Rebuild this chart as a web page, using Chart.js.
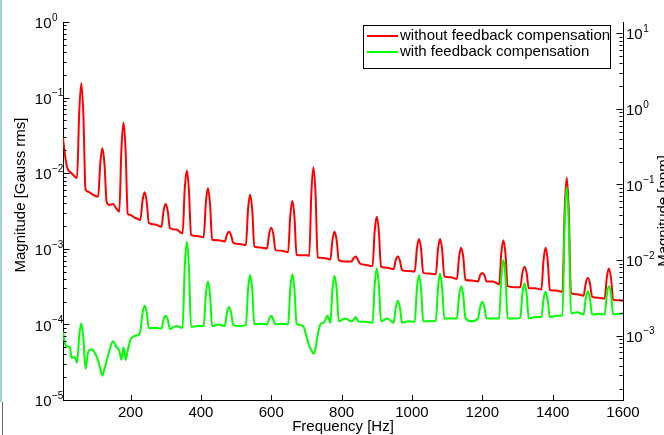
<!DOCTYPE html>
<html>
<head>
<meta charset="utf-8">
<script src="https://cdn.jsdelivr.net/npm/chart.js@4.4.1/dist/chart.umd.min.js"></script>
<style>
  body { margin: 0; background: #fff; }
  #wrap { position: relative; width: 664px; height: 435px; }
  #edgeTop { position: absolute; left: 0; top: 0; width: 2px; height: 402px; background: #a3d2dc; }
  #edgeBottom { position: absolute; left: 2px; top: 402px; width: 1px; height: 33px; background: #666; }
</style>
</head>
<body>
<div id="wrap">
  <canvas id="chart" width="664" height="435"></canvas>
  <div id="edgeTop"></div>
  <div id="edgeBottom"></div>
</div>
<script>
// frequency axis (Hz)
const freq = [
  8, 14, 20, 27, 33, 40, 44,
  48, 54, 60, 66, 72, 80, 90, 100,
  108, 114, 120, 126, 132, 140, 150, 160,
  168, 174, 180, 186, 192, 200, 210, 220,
  228, 234, 240, 246, 252, 270,
  288, 294, 300, 306, 312, 330,
  348, 354, 360, 366, 372, 390,
  408, 414, 420, 426, 432, 450,
  468, 474, 480, 486, 492, 510,
  528, 534, 540, 546, 552, 570,
  588, 594, 600, 606, 612, 630,
  648, 654, 660, 666, 672, 690,
  700, 708, 714, 720, 726, 732, 740, 750, 760,
  768, 774, 780, 786, 792, 810,
  828, 834, 840, 846, 852, 870,
  888, 894, 900, 906, 912, 930,
  948, 954, 960, 966, 972, 990,
  1008, 1014, 1020, 1026, 1032, 1050,
  1068, 1074, 1080, 1086, 1092, 1110,
  1128, 1134, 1140, 1146, 1152, 1170,
  1188, 1194, 1200, 1206, 1212, 1230,
  1248, 1254, 1260, 1266, 1272, 1290,
  1308, 1314, 1320, 1326, 1332, 1350,
  1368, 1374, 1380, 1386, 1392, 1410,
  1428, 1434, 1440, 1446, 1452, 1470,
  1488, 1494, 1500, 1506, 1512, 1530,
  1548, 1554, 1560, 1566, 1572, 1590, 1600
];

// magnitude without feedback compensation (Gauss rms)
const withoutComp = [
  0.029, 0.017, 0.0118, 0.0105, 0.0099, 0.0092, 0.0088,
  0.0087, 0.062, 0.155, 0.058, 0.0061, 0.0057, 0.0053, 0.0050,
  0.0049, 0.0135, 0.0213, 0.013, 0.0042, 0.0038, 0.0039, 0.0034,
  0.0031, 0.0205, 0.047, 0.020, 0.0029, 0.0028, 0.0026, 0.0025,
  0.0024, 0.0043, 0.0056, 0.0042, 0.0022, 0.0021,
  0.00195, 0.0032, 0.0039, 0.0031, 0.00187, 0.0018,
  0.0016, 0.0061, 0.0108, 0.0060, 0.00152, 0.00148,
  0.00142, 0.0040, 0.0063, 0.0039, 0.00132, 0.0013,
  0.00125, 0.00154, 0.00168, 0.0015, 0.0012, 0.00116,
  0.00112, 0.0033, 0.0052, 0.00324, 0.00107, 0.00104,
  0.00101, 0.00157, 0.0019, 0.00155, 0.00096, 0.00094,
  0.0009, 0.00269, 0.0043, 0.00263, 0.00083, 0.00082,
  0.00082, 0.00081, 0.0054, 0.012, 0.0053, 0.00077, 0.00076, 0.00075, 0.00074,
  0.00072, 0.0013, 0.00168, 0.0013, 0.00071, 0.00068,
  0.00068, 0.00075, 0.00079, 0.00072, 0.00064, 0.00061,
  0.00059, 0.0017, 0.00266, 0.00168, 0.00058, 0.00056,
  0.00054, 0.00071, 0.00079, 0.00069, 0.00052, 0.00051,
  0.0005, 0.001, 0.00135, 0.00099, 0.00048, 0.00047,
  0.00046, 0.00098, 0.00135, 0.00096, 0.00043, 0.00042,
  0.0004, 0.00078, 0.00103, 0.00077, 0.00039, 0.00038,
  0.00037, 0.00045, 0.00048, 0.00045, 0.00037, 0.00037,
  0.00034, 0.00087, 0.0013, 0.00085, 0.00032, 0.00031,
  0.00031, 0.00048, 0.00058, 0.00048, 0.0003, 0.0003,
  0.00029, 0.0007, 0.00103, 0.0007, 0.000285, 0.00028,
  0.00027, 0.0031, 0.0088, 0.0031, 0.00026, 0.00025,
  0.00024, 0.00035, 0.00041, 0.00035, 0.000233, 0.000225,
  0.00022, 0.00042, 0.00055, 0.00041, 0.000212, 0.000208, 0.000206
];

// magnitude with feedback compensation (Gauss rms)
const withComp = [
  8.0e-5, 5.5e-5, 5.1e-5, 5.0e-5, 3.6e-5, 3.7e-5, 3.5e-5,
  3.1e-5, 7.0e-5, 1.03e-4, 6.5e-5, 2.6e-5, 4.4e-5, 4.7e-5, 4.1e-5,
  3.3e-5, 2.6e-5, 2.1e-5, 2.6e-5, 3.3e-5, 4.5e-5, 6.0e-5, 5.0e-5,
  4.5e-5, 3.4e-5, 5.0e-5, 3.4e-5, 4.5e-5, 6.3e-5, 7.0e-5, 7.2e-5,
  8.2e-5, 1.4e-4, 1.77e-4, 1.44e-4, 8.9e-5, 9.0e-5,
  8.8e-5, 1.17e-4, 1.3e-4, 1.15e-4, 8.7e-5, 9.5e-5,
  9.0e-5, 5.6e-4, 1.24e-3, 5.7e-4, 9.3e-5, 9.5e-5,
  9.5e-5, 2.46e-4, 3.7e-4, 2.45e-4, 9.5e-5, 1.0e-4,
  9.5e-5, 1.43e-4, 1.7e-4, 1.42e-4, 9.8e-5, 9.5e-5,
  9.8e-5, 2.85e-4, 4.5e-4, 2.85e-4, 1.0e-4, 1.02e-4,
  1.0e-4, 1.18e-4, 1.3e-4, 1.15e-4, 1.0e-4, 1.02e-4,
  1.0e-4, 2.9e-4, 4.6e-4, 2.9e-4, 1.02e-4, 9.6e-5,
  7.0e-5, 5.2e-5, 4.6e-5, 4.1e-5, 4.8e-5, 7.2e-5, 1.0e-4, 1.06e-4, 1.3e-4,
  1.05e-4, 2.86e-4, 4.4e-4, 2.9e-4, 1.1e-4, 1.2e-4,
  1.1e-4, 1.15e-4, 1.25e-4, 1.12e-4, 1.08e-4, 1.08e-4,
  1.05e-4, 3.3e-4, 5.5e-4, 3.3e-4, 1.1e-4, 1.2e-4,
  1.05e-4, 1.68e-4, 2.06e-4, 1.65e-4, 1.05e-4, 1.1e-4,
  1.08e-4, 2.9e-4, 4.5e-4, 2.9e-4, 1.1e-4, 1.1e-4,
  1.12e-4, 3.0e-4, 4.7e-4, 3.0e-4, 1.2e-4, 1.2e-4,
  1.2e-4, 2.4e-4, 3.2e-4, 2.4e-4, 1.22e-4, 1.1e-4,
  1.2e-4, 1.7e-4, 2.0e-4, 1.7e-4, 1.2e-4, 1.2e-4,
  1.2e-4, 4.2e-4, 7.1e-4, 4.2e-4, 1.2e-4, 1.2e-4,
  1.22e-4, 2.55e-4, 3.5e-4, 2.55e-4, 1.2e-4, 1.25e-4,
  1.25e-4, 2.14e-4, 2.7e-4, 2.1e-4, 1.25e-4, 1.3e-4,
  1.3e-4, 2.0e-3, 6.6e-3, 2.0e-3, 1.4e-4, 1.45e-4,
  1.35e-4, 2.2e-4, 2.74e-4, 2.2e-4, 1.35e-4, 1.38e-4,
  1.35e-4, 2.5e-4, 3.2e-4, 2.5e-4, 1.35e-4, 1.38e-4, 1.4e-4
];

const seriesLabels = ['without feedback compensation', 'with feedback compensation'];
const xTicks = [200, 400, 600, 800, 1000, 1200, 1400, 1600];
const leftTicks = [1e0, 1e-1, 1e-2, 1e-3, 1e-4, 1e-5];
const rightTicks = [1e1, 1e0, 1e-1, 1e-2, 1e-3];

const FONT = '15px "Liberation Sans", Arial, sans-serif';
const SUP_FONT = '10px "Liberation Sans", Arial, sans-serif';

function logTickMarks(ctx, scale, x0, dir) {
  const lo = Math.floor(Math.log10(scale.min));
  const hi = Math.ceil(Math.log10(scale.max));
  for (let d = lo; d <= hi; d++) {
    for (let k = 1; k <= 9; k++) {
      const v = k * Math.pow(10, d);
      if (v < scale.min * 0.999 || v > scale.max * 1.001) continue;
      const py = Math.round(scale.getPixelForValue(v)) + 0.5;
      const len = k === 1 ? 6 : 3;
      ctx.moveTo(x0, py);
      ctx.lineTo(x0 + dir * len, py);
    }
  }
}

function powerLabel(ctx, v, py, x0, side) {
  const exp = Math.round(Math.log10(v));
  const expText = exp < 0 ? '\u2212' + (-exp) : String(exp);
  ctx.font = FONT;
  ctx.textAlign = 'left';
  ctx.textBaseline = 'middle';
  const w = ctx.measureText('10').width;
  const left = side === 'right' ? x0 - w : x0;
  ctx.fillText('10', left, py + 2);
  ctx.font = SUP_FONT;
  ctx.fillText(expText, left + w + 0.5, py - 4);
}

const axisDecor = {
  id: 'axisDecor',
  afterDraw(chart) {
    const { ctx, chartArea: a } = chart;
    const { x, y, y2 } = chart.scales;
    const midY = (a.top + a.bottom) / 2;
    ctx.save();

    // inward tick marks
    ctx.strokeStyle = '#000';
    ctx.lineWidth = 1;
    ctx.beginPath();
    xTicks.forEach(v => {
      const px = Math.round(x.getPixelForValue(v)) + 0.5;
      ctx.moveTo(px, a.bottom);
      ctx.lineTo(px, a.bottom - 5);
    });
    logTickMarks(ctx, y, a.left + 0.5, 1);
    logTickMarks(ctx, y2, a.right - 0.5, -1);
    ctx.stroke();

    // tick labels
    ctx.fillStyle = '#000';
    ctx.font = FONT;
    ctx.textAlign = 'center';
    ctx.textBaseline = 'middle';
    xTicks.forEach(v => ctx.fillText(String(v), x.getPixelForValue(v), 413));
    leftTicks.forEach(v => powerLabel(ctx, v, y.getPixelForValue(v), 51.5, 'right'));
    rightTicks.forEach(v => powerLabel(ctx, v, y2.getPixelForValue(v), 626, 'left'));

    // axis titles
    ctx.font = FONT;
    ctx.textAlign = 'center';
    ctx.textBaseline = 'middle';
    ctx.fillText('Frequency [Hz]', (a.left + a.right) / 2, 427);
    ctx.save();
    ctx.translate(21, midY - 16);
    ctx.rotate(-Math.PI / 2);
    ctx.fillText('Magnitude [Gauss rms]', 0, 0);
    ctx.restore();
    ctx.save();
    ctx.translate(664, midY);
    ctx.rotate(-Math.PI / 2);
    ctx.fillText('Magnitude [ppm]', 0, 0);
    ctx.restore();

    // legend box
    ctx.fillStyle = '#fff';
    ctx.fillRect(363, 25, 248, 43);
    ctx.strokeStyle = '#000';
    ctx.lineWidth = 1;
    ctx.strokeRect(363.5, 25.5, 247, 43);
    chart.data.datasets.forEach((ds, i) => {
      const ly = 36 + i * 16;
      ctx.strokeStyle = ds.borderColor;
      ctx.lineWidth = 2;
      ctx.beginPath();
      ctx.moveTo(367, ly);
      ctx.lineTo(398, ly);
      ctx.stroke();
      ctx.fillStyle = '#000';
      ctx.font = FONT;
      ctx.textAlign = 'left';
      ctx.textBaseline = 'middle';
      ctx.fillText(ds.label, 400, ly);
    });

    ctx.restore();
  }
};

const ctx = document.getElementById('chart').getContext('2d');
const chart = new Chart(ctx, {
  type: 'line',
  data: {
    datasets: [{
      label: seriesLabels[0],
      data: freq.map((f, i) => ({ x: f, y: withoutComp[i] })),
      borderColor: '#ff0000',
      borderWidth: 2,
      pointRadius: 0,
      cubicInterpolationMode: 'monotone',
      yAxisID: 'y',
      order: 1
    }, {
      label: seriesLabels[1],
      data: freq.map((f, i) => ({ x: f, y: withComp[i] })),
      borderColor: '#00ff00',
      borderWidth: 2,
      pointRadius: 0,
      cubicInterpolationMode: 'monotone',
      yAxisID: 'y',
      order: 0
    }]
  },
  options: {
    responsive: false,
    animation: false,
    devicePixelRatio: 1,
    layout: { padding: { top: 22, left: 0, right: 0, bottom: 0 } },
    plugins: { legend: { display: false }, tooltip: { enabled: false } },
    scales: {
      x: {
        type: 'linear', min: 8, max: 1600,
        grid: { display: false }, ticks: { display: false },
        border: { color: '#000' },
        afterFit: s => { s.height = 35; }
      },
      y: {
        type: 'logarithmic', position: 'left', min: 1e-5, max: 1,
        grid: { display: false }, ticks: { display: false },
        border: { color: '#000' },
        afterFit: s => { s.width = 63; }
      },
      y2: {
        type: 'logarithmic', position: 'right', min: 1.41e-4, max: 14.1,
        grid: { display: false }, ticks: { display: false },
        border: { color: '#000' },
        afterFit: s => { s.width = 41; }
      }
    }
  },
  plugins: [axisDecor]
});
</script>
</body>
</html>
